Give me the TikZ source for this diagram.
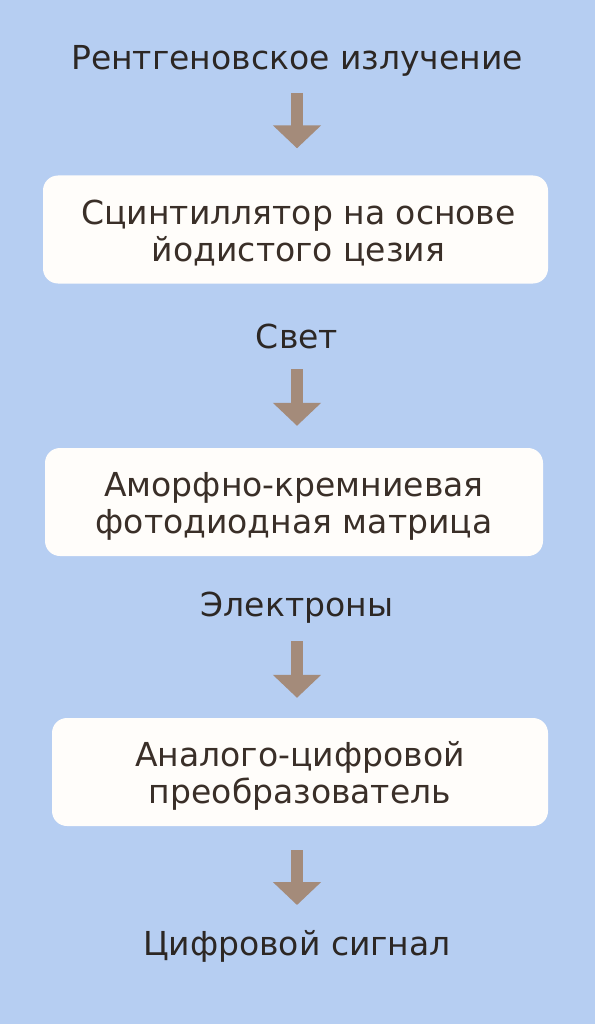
\documentclass[tikz,border=0pt]{standalone}
\usepackage{fontspec}
\setmainfont{DejaVu Sans}
\usetikzlibrary{arrows.meta}
\definecolor{bgc}{HTML}{B6CEF2}
\definecolor{boxc}{HTML}{FFFDFA}
\definecolor{txtc}{HTML}{2C2724}
\definecolor{btxtc}{HTML}{3A2F28}
\definecolor{arrc}{HTML}{A48B7A}
\tikzset{
  lbl/.style={inner sep=0pt, text=txtc, font=\fontsize{33}{37}\selectfont, align=center},
  btxt/.style={lbl, text=btxtc, yshift=-4pt},
  boxn/.style={inner sep=0pt, fill=boxc, rounded corners=15pt, minimum height=108pt},
  arr/.style={draw=arrc, line width=11.5pt, -{Triangle[width=47pt,length=23pt]}},
}
\begin{document}
\begin{tikzpicture}[x=1pt,y=-1pt]
\fill[bgc] (0,0) rectangle (595,1024);
\useasboundingbox (0,0) rectangle (595,1024);
\node[lbl] (t1) at (297,61) {Рентгеновское излучение};
\node[boxn, minimum width=505pt] (b1) at (295.5,229.5) {};
\node[btxt, xshift=3pt] (b1t) at (b1.center) {Сцинтиллятор на основе\\йодистого цезия};
\node[lbl] (t2) at (297,336) {Свет};
\node[boxn, minimum width=498pt] (b2) at (294,502) {};
\node[btxt] (b2t) at (b2.center) {Аморфно-кремниевая\\фотодиодная матрица};
\node[lbl] (t3) at (297,608) {Электроны};
\node[boxn, minimum width=496pt] (b3) at (300,772) {};
\node[btxt] (b3t) at (b3.center) {Аналого-цифровой\\преобразователь};
\node[lbl] (t4) at (297,946) {Цифровой сигнал};
\draw[arr, shorten <=32pt, shorten >=27pt] (t1.center) -- (t1.center |- b1.north);
\draw[arr, shorten <=33pt, shorten >=22pt] (t2.center) -- (t2.center |- b2.north);
\draw[arr, shorten <=33pt, shorten >=20pt] (t3.center) -- (t3.center |- b3.north);
\draw[arr, shorten <=24pt, shorten >=41pt] (t4.center |- b3.south) -- (t4.center);
\end{tikzpicture}
\end{document}
